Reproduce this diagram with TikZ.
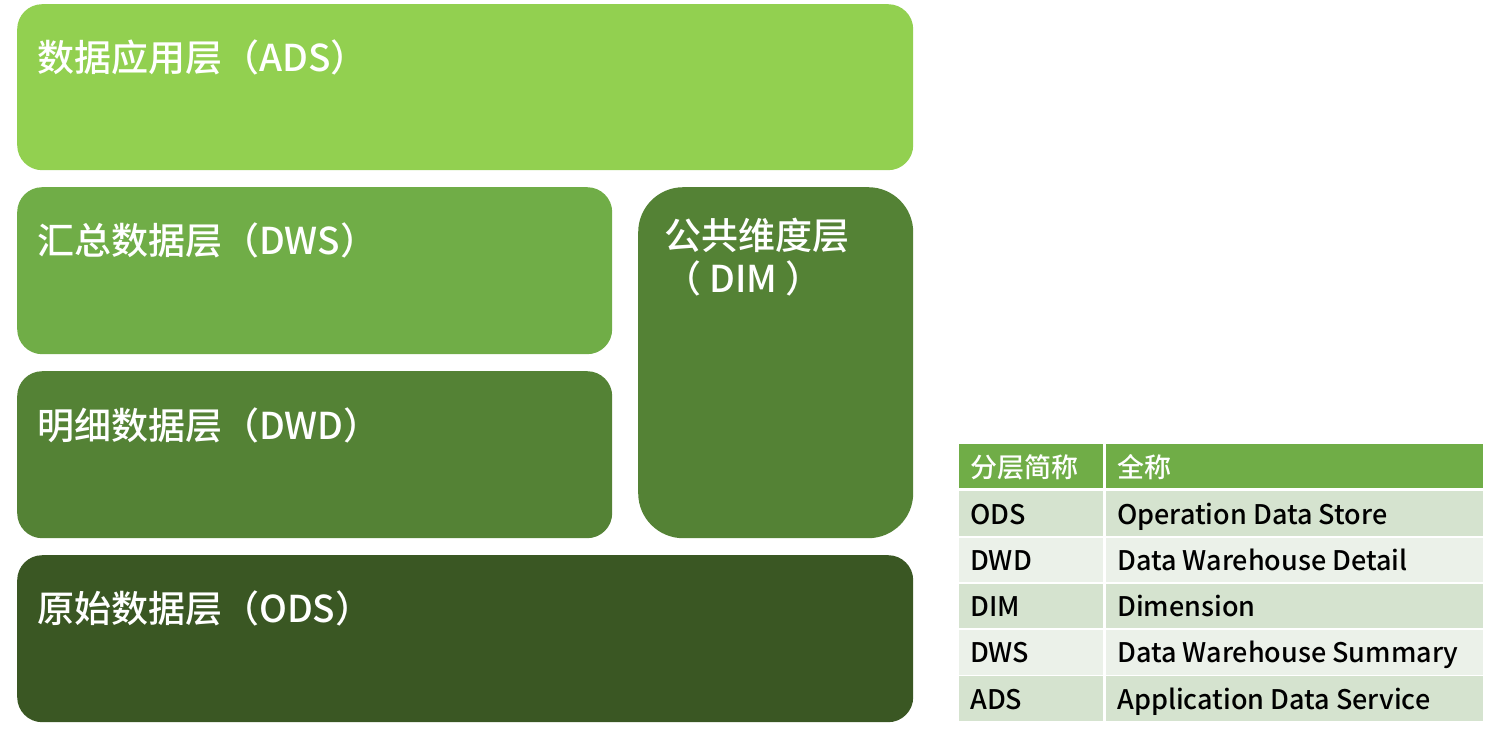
\documentclass[tikz,border=0pt]{standalone}
\usepackage{fontspec}
\setmainfont{Noto Sans CJK SC}[BoldFont={Noto Sans CJK SC Medium}]
\usetikzlibrary{positioning}
\definecolor{adsgreen}{HTML}{92D050}
\definecolor{dwsgreen}{HTML}{70AD47}
\definecolor{dwdgreen}{HTML}{548235}
\definecolor{odsgreen}{HTML}{3A5723}
\definecolor{rowdark}{HTML}{D5E3CF}
\definecolor{rowlight}{HTML}{EBF1E9}
\tikzset{
  layer/.style={rectangle, rounded corners=25pt, inner sep=0pt, anchor=north west},
  layername/.style={text=white, font=\fontsize{37}{43}\selectfont\bfseries, inner sep=0pt, anchor=base west, align=left},
  cell/.style={rectangle, inner sep=0pt, anchor=north west, minimum height=44.5pt},
  celltext/.style={font=\fontsize{27}{30}\selectfont\bfseries, inner sep=0pt, anchor=base west}
}

\begin{document}
\begin{tikzpicture}[x=1pt, y=-1pt]
  \useasboundingbox (0,0) rectangle (1492,731);

  % Layers of the warehouse
  \node[layer, fill=adsgreen, minimum width=896pt, minimum height=166pt] (ads) at (17,4) {};
  \node[layer, fill=dwsgreen, minimum width=595pt, minimum height=167pt] (dws) at (17,187) {};
  \node[layer, fill=dwdgreen, minimum width=595pt, minimum height=167pt] (dwd) at (17,371) {};
  \node[layer, fill=dwdgreen, rounded corners=45pt, minimum width=275pt, minimum height=351pt] (dim) at (638,187) {};
  \node[layer, fill=odsgreen, minimum width=896pt, minimum height=167pt] (ods) at (17,555) {};

  % Layer names
  \node[layername] (adsname) at (37,71) {数据应用层（ADS）};
  \node[layername] (dwsname) at (37,254) {汇总数据层（DWS）};
  \node[layername] (dwdname) at (37,439) {明细数据层（DWD）};
  \node[layername] (odsname) at (37,622) {原始数据层（ODS）};
  \node[layername] (dimname) at (664,292) {公共维度层\\（ DIM ）};

  % Table of abbreviations: header
  \node[cell, fill=dwsgreen, minimum width=144pt, minimum height=44pt] (headabbr) at (959,444) {};
  \node[cell, fill=dwsgreen, minimum width=377pt, minimum height=44pt] (headfull) at (1106,444) {};
  \node[celltext, text=white] (headabbrtext) at (970,477) {分层简称};
  \node[celltext, text=white] (headfulltext) at (1117,477) {全称};

  % Table rows
  \foreach \abbr/\full/\shade [count=\i from 0] in {
      ODS/Operation Data Store/rowdark,
      DWD/Data Warehouse Detail/rowlight,
      DIM/Dimension/rowdark,
      DWS/Data Warehouse Summary/rowlight,
      ADS/Application Data Service/rowdark} {
    \node[cell, fill=\shade, minimum width=144pt] (abbr\abbr) at (959,{491+46.3*\i}) {};
    \node[cell, fill=\shade, minimum width=377pt] (full\abbr) at (1106,{491+46.3*\i}) {};
    \node[celltext] (abbrtext\abbr) at (970,{524+46.3*\i}) {\abbr};
    \node[celltext] (fulltext\abbr) at (1117,{524+46.3*\i}) {\full};
  }
\end{tikzpicture}
\end{document}
